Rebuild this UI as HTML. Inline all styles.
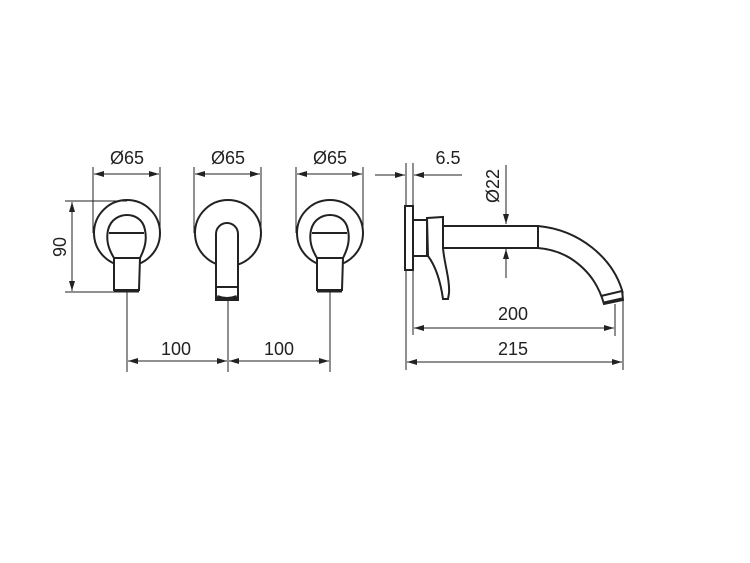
<!DOCTYPE html>
<html><head><style>html,body{margin:0;padding:0;background:#fff}svg{display:block}text{font-family:"Liberation Sans",sans-serif;font-size:18px;fill:#222}</style></head><body>
<svg width="750" height="563" viewBox="0 0 750 563" xmlns="http://www.w3.org/2000/svg">
<defs><marker id="a" viewBox="0 0 10 6" refX="10" refY="3" markerWidth="10" markerHeight="6" orient="auto-start-reverse" markerUnits="userSpaceOnUse"><path d="M0,0L10,3L0,6z" fill="#222"/></marker></defs>
<g stroke="#222" stroke-width="1" fill="none">
<line x1="93" y1="167" x2="93" y2="233"/><line x1="160" y1="167" x2="160" y2="233"/>
<line x1="94" y1="174" x2="159" y2="174" marker-start="url(#a)" marker-end="url(#a)"/>
<line x1="194" y1="167" x2="194" y2="233"/><line x1="261" y1="167" x2="261" y2="233"/>
<line x1="195" y1="174" x2="260" y2="174" marker-start="url(#a)" marker-end="url(#a)"/>
<line x1="296" y1="167" x2="296" y2="233"/><line x1="363" y1="167" x2="363" y2="233"/>
<line x1="297" y1="174" x2="362" y2="174" marker-start="url(#a)" marker-end="url(#a)"/>
<line x1="65" y1="201" x2="127" y2="201"/><line x1="65" y1="292" x2="115" y2="292"/>
<line x1="72" y1="202" x2="72" y2="291" marker-start="url(#a)" marker-end="url(#a)"/>
<line x1="127" y1="292" x2="127" y2="372"/><line x1="228" y1="300" x2="228" y2="372"/><line x1="330" y1="292" x2="330" y2="372"/>
<line x1="128" y1="361" x2="227" y2="361" marker-start="url(#a)" marker-end="url(#a)"/>
<line x1="229" y1="361" x2="329" y2="361" marker-start="url(#a)" marker-end="url(#a)"/>
</g>
<g stroke="#222" stroke-width="2" fill="none">
<circle cx="127" cy="233" r="33"/><circle cx="228" cy="233" r="33"/><circle cx="330" cy="233" r="33"/>
<g id="h"><path d="M114,258 C108,248 106,240 108,230 C111,218 121,215 127,215 C133,215 143,218 145,230 C147,240 145,248 140,258 L139,290 L114,290 Z" fill="#fff"/>
<line x1="109" y1="233" x2="144" y2="233"/><line x1="114" y1="258" x2="140" y2="258"/><line x1="114" y1="291" x2="139" y2="291" stroke-width="3"/></g>
<use href="#h" x="203"/>
<path d="M216,300 L216,234 A11,11 0 0 1 238,234 L238,300 Z" fill="#fff"/>
<line x1="216" y1="287" x2="238" y2="287"/><path d="M217,297 Q227,301 237,297" stroke-width="4"/>
</g>
<g stroke="#222" stroke-width="1" fill="none">
<line x1="406" y1="163" x2="406" y2="370"/><line x1="413" y1="163" x2="413" y2="335"/>
<line x1="375" y1="175" x2="405" y2="175" marker-end="url(#a)"/><line x1="462" y1="175" x2="414" y2="175" marker-end="url(#a)"/>
<line x1="506" y1="165" x2="506" y2="224" marker-end="url(#a)"/><line x1="506" y1="278" x2="506" y2="249" marker-end="url(#a)"/>
<line x1="615" y1="304" x2="615" y2="336"/><line x1="623" y1="291" x2="623" y2="370"/>
<line x1="414" y1="328" x2="614" y2="328" marker-start="url(#a)" marker-end="url(#a)"/>
<line x1="407" y1="362" x2="622" y2="362" marker-start="url(#a)" marker-end="url(#a)"/>
</g>
<g stroke="#222" stroke-width="2" fill="#fff">
<rect x="405" y="206" width="8" height="64"/>
<rect x="413" y="220" width="14" height="36"/>
<path d="M427,218 L443,217 L443,248 C444,262 450,280 449,293 L448,299 L443,299 C441,285 437,268 428,256 Z"/>
<path d="M443,226 L538,226 C580,230 612,258 622,290 L623,300 L604,304 C600,290 592,272 570,258 C560,252 550,249 538,248 L443,248 Z"/>
<line x1="538" y1="226" x2="538" y2="248"/>
<line x1="601" y1="296" x2="622" y2="291"/>
<path d="M604,303 L622,299" stroke-width="3"/>
</g>
<text x="127" y="164" text-anchor="middle">Ø65</text>
<text x="228" y="164" text-anchor="middle">Ø65</text>
<text x="330" y="164" text-anchor="middle">Ø65</text>
<text x="176" y="355" text-anchor="middle">100</text>
<text x="279" y="355" text-anchor="middle">100</text>
<text x="448" y="164" text-anchor="middle">6.5</text>
<text x="513" y="320" text-anchor="middle">200</text>
<text x="513" y="355" text-anchor="middle">215</text>
<text transform="translate(66,247) rotate(-90)" text-anchor="middle">90</text>
<text transform="translate(499,186) rotate(-90)" text-anchor="middle">Ø22</text>
</svg>
</body></html>
